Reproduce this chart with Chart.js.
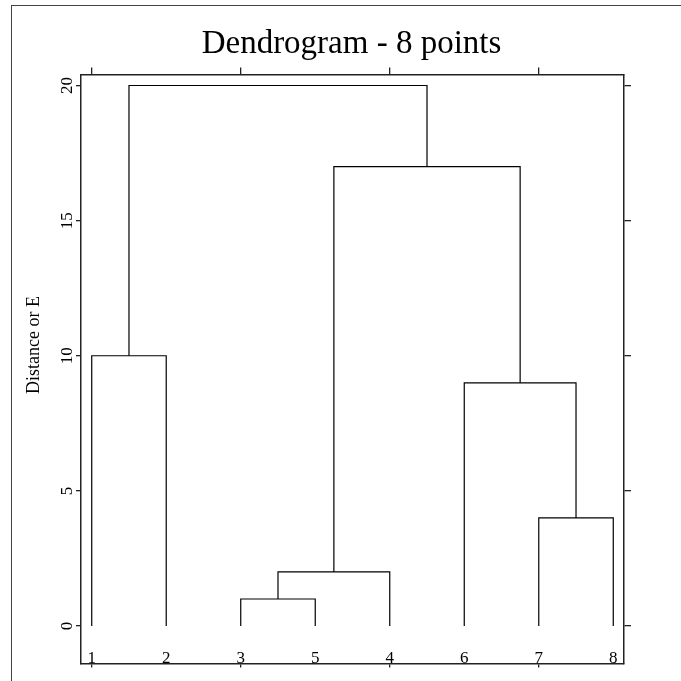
<!DOCTYPE html>
<html>
<head>
<meta charset="utf-8">
<title>Dendrogram - 8 points</title>
<script src="https://cdn.jsdelivr.net/npm/chart.js@4/dist/chart.umd.min.js"></script>
<style>
  html, body { margin: 0; padding: 0; background: #fff; }
  #wrap { position: relative; width: 681px; height: 681px; }
  #frame {
    position: absolute; left: 11px; top: 5px; right: 0; bottom: 0;
    border-left: 1.5px solid #444; border-top: 1.5px solid #444;
  }
  #chart { position: absolute; left: 0; top: 0; }
</style>
</head>
<body>
<div id="wrap">
  <div id="frame"></div>
  <canvas id="chart" width="681" height="681"></canvas>
</div>
<script>
// Leaf labels in the order they sit along the bottom of the tree
const leafLabels = ['1', '2', '3', '5', '4', '6', '7', '8'];

// Merge table: negative = leaf (1-based position in leafLabels), positive = earlier merge (1-based)
const mergeLeft   = [-3, 1, -7, -6, -1, 2, 5];
const mergeRight  = [-4, -5, -8, 3, -2, 4, 6];
const mergeHeight = [1, 2, 4, 9, 10, 17, 20];

// Axis tick values
const yTickValues = [0, 5, 10, 15, 20];
const xTickValues = [1, 3, 5, 7];

const titleText = 'Dendrogram - 8 points';
const yTitleText = 'Distance or E';

// Position and height of a node (leaf or merge)
const mergeX = [];
function node(id) {
  if (id < 0) return { x: -id, y: 0 };
  return { x: mergeX[id - 1], y: mergeHeight[id - 1] };
}
const linkData = [];
for (let i = 0; i < mergeHeight.length; i++) {
  const a = node(mergeLeft[i]);
  const b = node(mergeRight[i]);
  const h = mergeHeight[i];
  mergeX.push((a.x + b.x) / 2);
  linkData.push([
    { x: a.x, y: a.y }, { x: a.x, y: h },
    { x: b.x, y: h }, { x: b.x, y: b.y }
  ]);
}

const datasets = linkData.map(pts => ({
  data: pts,
  showLine: true,
  borderColor: '#000',
  borderWidth: 1.2,
  pointRadius: 0,
  tension: 0,
  fill: false
}));

const SERIF = '"Liberation Serif", "Times New Roman", serif';
const axisColor = '#222';
const xRange = { min: 0.856, max: 8.144 };
const yRange = { min: -1.406, max: 20.389 };

function fixedTicks(values) {
  return scale => { scale.ticks = values.map(v => ({ value: v })); };
}
function axisBase(extra) {
  return Object.assign({
    type: 'linear',
    ticks: { display: false },
    grid: { drawOnChartArea: false, drawTicks: true, color: axisColor, lineWidth: 1.3 },
    border: { display: true, color: axisColor, width: 1.5 }
  }, extra);
}

// Text: title, rotated y tick labels, y title, leaf labels
const textPlugin = {
  id: 'dendroText',
  afterDraw(chart) {
    const ctx = chart.ctx;
    const area = chart.chartArea;
    const xs = chart.scales.x;
    const ys = chart.scales.y;
    ctx.save();
    ctx.fillStyle = '#000';

    ctx.font = '33px ' + SERIF;
    ctx.textAlign = 'center';
    ctx.textBaseline = 'alphabetic';
    ctx.fillText(titleText, (area.left + area.right) / 2 - 1, 53);

    ctx.font = '17px ' + SERIF;
    yTickValues.forEach(v => {
      const py = ys.getPixelForValue(v);
      ctx.save();
      ctx.translate(area.left - 9, py);
      ctx.rotate(-Math.PI / 2);
      ctx.textAlign = 'center';
      ctx.fillText(String(v), 0, 0);
      ctx.restore();
    });

    ctx.save();
    ctx.font = '18px ' + SERIF;
    ctx.translate(39, 345);
    ctx.rotate(-Math.PI / 2);
    ctx.textAlign = 'center';
    ctx.fillText(yTitleText, 0, 0);
    ctx.restore();

    ctx.font = '17px ' + SERIF;
    ctx.textAlign = 'center';
    leafLabels.forEach((lab, i) => {
      ctx.fillText(lab, xs.getPixelForValue(i + 1), area.bottom - 1);
    });
    ctx.restore();
  }
};

new Chart(document.getElementById('chart'), {
  type: 'scatter',
  data: { datasets },
  options: {
    responsive: false,
    animation: false,
    layout: { padding: 0 },
    plugins: { legend: { display: false }, tooltip: { enabled: false }, title: { display: false } },
    scales: {
      x: axisBase(Object.assign({
        position: 'bottom',
        afterBuildTicks: fixedTicks(xTickValues),
        afterFit: s => { s.height = 17; }
      }, xRange, { grid: { drawOnChartArea: false, tickLength: 3.5, color: axisColor, lineWidth: 1.3 } })),
      x2: axisBase(Object.assign({
        position: 'top',
        afterBuildTicks: fixedTicks(xTickValues),
        afterFit: s => { s.height = 75; }
      }, xRange, { grid: { drawOnChartArea: false, tickLength: 7.5, color: axisColor, lineWidth: 1.3 } })),
      y: axisBase(Object.assign({
        position: 'left',
        afterBuildTicks: fixedTicks(yTickValues),
        afterFit: s => { s.width = 81; }
      }, yRange, { grid: { drawOnChartArea: false, tickLength: 5, color: axisColor, lineWidth: 1.3 } })),
      y2: axisBase(Object.assign({
        position: 'right',
        afterBuildTicks: fixedTicks(yTickValues),
        afterFit: s => { s.width = 57; }
      }, yRange, { grid: { drawOnChartArea: false, tickLength: 7, color: axisColor, lineWidth: 1.3 } }))
    }
  },
  plugins: [textPlugin]
});
</script>
</body>
</html>
